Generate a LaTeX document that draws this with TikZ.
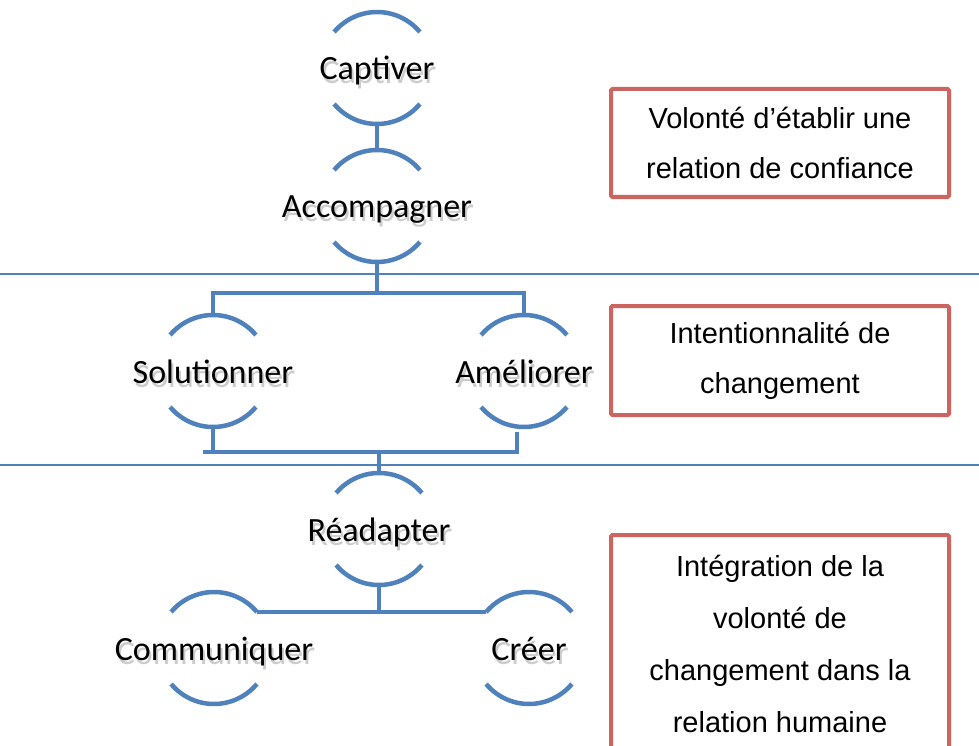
\documentclass[tikz,border=0pt]{standalone}
\usepackage{fontspec}
\setmainfont{Carlito}
\newfontfamily\boxfont{Liberation Sans}
\definecolor{linkblue}{RGB}{79,129,189}
\definecolor{boxred}{RGB}{204,100,95}
\tikzset{
  arcline/.style={draw=linkblue, line width=4.5pt},
  link/.style={draw=linkblue, line width=4.5pt},
  guide/.style={draw=linkblue, line width=1.4pt},
  stagetext/.style={font=\fontsize{34}{40}\selectfont, text=black, inner sep=0pt},
  stageshadow/.style={stagetext, text opacity=0.2},
  notebox/.style={draw=boxred, line width=4pt, rounded corners=1.5pt,
    minimum width=338pt, align=center, inner sep=0pt,
    font=\boxfont\fontsize{29}{50}\selectfont},
}
% One stage: a label framed by an upper and a lower arc of the same circle
\newcommand\stagenode[4]{%
  \coordinate (#1) at (#2,#3);
  \coordinate (#1-n) at ([yshift=56pt]#1);
  \coordinate (#1-s) at ([yshift=-56pt]#1);
  \coordinate (#1-ne) at ([shift={(40:56pt)}]#1);
  \coordinate (#1-nw) at ([shift={(140:56pt)}]#1);
  \coordinate (#1-base) at ([yshift=-12pt]#1);
  \draw[arcline] (#1-ne) arc[start angle=40,end angle=140,radius=56pt];
  \draw[arcline] ([shift={(220:56pt)}]#1) arc[start angle=220,end angle=320,radius=56pt];
  \node[stageshadow, anchor=base] (#1-shadow) at ([shift={(2pt,-4pt)}]#1-base) {#4};
  \node[stagetext, anchor=base] (#1-t) at (#1-base) {#4};
}
\begin{document}
\begin{tikzpicture}[x=1pt, y=-1pt]
  \useasboundingbox (0,0) rectangle (979,746);
  \clip (0,0) rectangle (979,746);
  \fill[white] (0,0) rectangle (979,746);

  % separators between the three phases
  \coordinate (guideA-w) at (0,274);
  \coordinate (guideA-e) at (979,274);
  \coordinate (guideB-w) at (0,465);
  \coordinate (guideB-e) at (979,465);
  \draw[guide] (guideA-w) -- (guideA-e);
  \draw[guide] (guideB-w) -- (guideB-e);

  % stages
  \stagenode{cap}{377}{68}{Captiver}
  \stagenode{acc}{377}{206}{Accompagner}
  \stagenode{sol}{213}{371}{Solutionner}
  \stagenode{ame}{524}{371}{Améliorer}
  \stagenode{rea}{379}{529}{Réadapter}
  \stagenode{com}{214}{648}{Communiquer}
  \stagenode{cre}{529}{648}{Créer}

  % connectors
  \coordinate (bar1) at (0,293);
  \coordinate (bar2w) at (203,452);
  \coordinate (ame-foot) at (517,432);
  \draw[link] (cap-s) -- (acc-n);
  \draw[link] (acc-s) -- (acc-s |- bar1);
  \draw[link] (sol-n) |- (ame-n |- bar1) -- (ame-n);
  \draw[link] (sol-s) -- (sol-s |- bar2w);
  \draw[link] (bar2w) -| (ame-foot);
  \draw[link] (rea-n) -- (rea-n |- bar2w);
  \draw[link] (rea-s) -- (rea-s |- com-ne);
  \draw[link] (com-ne) -- (cre-nw);

  % notes on the right
  \node[notebox, minimum height=108pt] (note1) at (780,143)
    {Volonté d’établir une\\relation de confiance};
  \node[notebox, minimum height=109pt] (note2) at (780,360.5)
    {Intentionnalité de\\changement};
  \node[notebox, minimum height=217pt, font=\boxfont\fontsize{29}{52}\selectfont]
    (note3) at (780,643.5)
    {Intégration de la\\volonté de\\changement dans la\\relation humaine};
\end{tikzpicture}
\end{document}
